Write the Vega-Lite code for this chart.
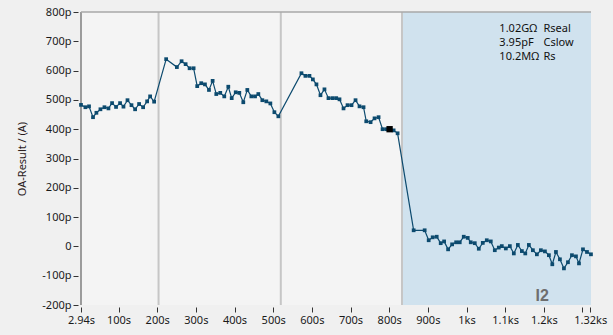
{
  "$schema": "https://vega.github.io/schema/vega-lite/v6.json",
  "width": 510,
  "height": 293,
  "autosize": "none",
  "padding": {"left": 81, "top": 12, "right": 22, "bottom": 30},
  "background": "#f0f0f0",
  "data": {"values": [{"one": 1}]},
  "config": {
    "view": {"fill": "#f4f4f4", "stroke": null},
    "font": "Noto Sans",
    "axis": {"labelFont": "Noto Sans", "titleFont": "Noto Sans", "labelFontSize": 11, "titleFontSize": 11, "labelColor": "#1a1a1a", "titleColor": "#2a1a1a", "titleFontWeight": "normal", "tickColor": "#333333", "grid": false, "labelOverlap": false, "labelFlush": false, "labelBound": false}
  },
  "datasets": {
    "trace": [
      {"t": 2.94, "v": 483}, {"t": 14.3, "v": 475}, {"t": 23.7, "v": 478}, {"t": 34.0, "v": 441}, {"t": 42.8, "v": 456},
      {"t": 53.2, "v": 468}, {"t": 63.6, "v": 475}, {"t": 73.9, "v": 471}, {"t": 83.3, "v": 489}, {"t": 93.6, "v": 476},
      {"t": 104.0, "v": 489}, {"t": 112.8, "v": 477}, {"t": 123.2, "v": 499}, {"t": 133.5, "v": 482}, {"t": 142.9, "v": 468},
      {"t": 153.2, "v": 486}, {"t": 163.6, "v": 475}, {"t": 174.0, "v": 495}, {"t": 181.7, "v": 512}, {"t": 192.1, "v": 494},
      {"t": 223.2, "v": 639}, {"t": 250.9, "v": 612}, {"t": 263.1, "v": 632}, {"t": 273.5, "v": 622}, {"t": 283.8, "v": 608},
      {"t": 294.2, "v": 608}, {"t": 303.5, "v": 547}, {"t": 313.9, "v": 557}, {"t": 323.5, "v": 553}, {"t": 333.9, "v": 534},
      {"t": 343.4, "v": 565}, {"t": 352.8, "v": 520}, {"t": 363.1, "v": 524}, {"t": 373.5, "v": 512}, {"t": 383.9, "v": 545},
      {"t": 392.7, "v": 506}, {"t": 403.1, "v": 526}, {"t": 412.4, "v": 524}, {"t": 422.7, "v": 492}, {"t": 433.1, "v": 534},
      {"t": 443.5, "v": 512}, {"t": 453.1, "v": 512}, {"t": 461.6, "v": 520}, {"t": 472.0, "v": 499}, {"t": 482.3, "v": 495},
      {"t": 492.7, "v": 488}, {"t": 503.1, "v": 458}, {"t": 513.4, "v": 444},
      {"t": 573.1, "v": 591}, {"t": 583.4, "v": 582}, {"t": 593.8, "v": 582}, {"t": 602.6, "v": 570}, {"t": 611.9, "v": 553},
      {"t": 622.3, "v": 516}, {"t": 632.6, "v": 536}, {"t": 643.0, "v": 506}, {"t": 653.4, "v": 506}, {"t": 663.0, "v": 506},
      {"t": 671.5, "v": 502}, {"t": 681.9, "v": 471}, {"t": 692.3, "v": 482}, {"t": 702.6, "v": 482}, {"t": 713.0, "v": 499},
      {"t": 723.3, "v": 478}, {"t": 733.7, "v": 475}, {"t": 740.7, "v": 427}, {"t": 751.9, "v": 424}, {"t": 762.2, "v": 437},
      {"t": 772.6, "v": 441}, {"t": 782.9, "v": 400}, {"t": 792.5, "v": 400}, {"t": 801.1, "v": 400}, {"t": 811.5, "v": 396},
      {"t": 821.8, "v": 386},
      {"t": 863.3, "v": 55}, {"t": 891.8, "v": 55}, {"t": 902.2, "v": 21}, {"t": 912.5, "v": 31}, {"t": 922.9, "v": 33},
      {"t": 933.3, "v": 11}, {"t": 942.1, "v": 17}, {"t": 952.4, "v": -10}, {"t": 962.8, "v": 7}, {"t": 973.2, "v": 14},
      {"t": 982.5, "v": 14}, {"t": 992.9, "v": 33}, {"t": 1003.2, "v": 29}, {"t": 1011.0, "v": 14}, {"t": 1021.4, "v": 11},
      {"t": 1031.8, "v": -8}, {"t": 1042.1, "v": 12}, {"t": 1052.5, "v": 21}, {"t": 1062.8, "v": 17}, {"t": 1073.2, "v": -13},
      {"t": 1083.5, "v": -4}, {"t": 1091.3, "v": 1}, {"t": 1101.7, "v": -7}, {"t": 1112.1, "v": 1}, {"t": 1122.4, "v": -24},
      {"t": 1132.8, "v": 5}, {"t": 1143.2, "v": -16}, {"t": 1152.0, "v": -24}, {"t": 1161.3, "v": 5}, {"t": 1171.7, "v": -13},
      {"t": 1182.0, "v": -27}, {"t": 1192.4, "v": -13}, {"t": 1202.8, "v": -17}, {"t": 1213.1, "v": -30}, {"t": 1221.9, "v": -61},
      {"t": 1231.3, "v": -19}, {"t": 1241.6, "v": -44}, {"t": 1252.0, "v": -75}, {"t": 1262.4, "v": -54}, {"t": 1272.7, "v": -30},
      {"t": 1283.1, "v": -34}, {"t": 1290.9, "v": -58}, {"t": 1301.2, "v": -10}, {"t": 1311.6, "v": -19}, {"t": 1321.9, "v": -27}
    ],
    "markers": [{"t": 203.5}, {"t": 519.7}, {"t": 833.2}]
  },
  "layer": [
    {
      "mark": {"type": "rect", "color": "#d0e2ee"},
      "encoding": {
        "x": {"datum": 834, "type": "quantitative", "scale": {"domain": [2.94, 1322], "nice": false, "zero": false}, "axis": {"title": null, "domain": false, "offset": 2, "tickSize": 5, "labelPadding": 2, "values": [2.94, 100, 200, 300, 400, 500, 600, 700, 800, 900, 1000, 1100, 1200, 1300, 1320], "labelExpr": "datum.value == 1300 ? '' : (datum.value >= 1000 ? (datum.value / 1000) + 'ks' : datum.value + 's')", "labelFlush": false, "labelOverlap": false, "labelBound": false}},
        "x2": {"datum": 1322},
        "y": {"datum": -200, "type": "quantitative", "scale": {"domain": [-200, 800], "nice": false, "zero": false}, "axis": {"title": "OA-Result / (A)", "domain": false, "offset": 3, "tickSize": 5, "labelPadding": 2, "titlePadding": 14, "values": [-200, -100, 0, 100, 200, 300, 400, 500, 600, 700, 800], "labelOverlap": false, "labelFlush": false, "labelBound": false, "labelExpr": "datum.value == 0 ? '0' : datum.value + 'p'"}},
        "y2": {"datum": 800}
      }
    },
    {
      "data": {"name": "markers"},
      "mark": {"type": "rule", "color": "#c6c6c6", "strokeWidth": 2},
      "encoding": {
        "x": {"field": "t", "type": "quantitative", "axis": {"title": null, "domain": false, "offset": 2, "tickSize": 5, "labelPadding": 2, "values": [2.94, 100, 200, 300, 400, 500, 600, 700, 800, 900, 1000, 1100, 1200, 1300, 1320], "labelExpr": "datum.value == 1300 ? '' : (datum.value >= 1000 ? (datum.value / 1000) + 'ks' : datum.value + 's')", "labelFlush": false, "labelOverlap": false, "labelBound": false}}
      }
    },
    {
      "mark": {"type": "rule", "color": "#7f7f7f", "strokeWidth": 1.5},
      "encoding": {
        "x": {"datum": 2.94, "type": "quantitative", "axis": {"title": null, "domain": false, "offset": 2, "tickSize": 5, "labelPadding": 2, "values": [2.94, 100, 200, 300, 400, 500, 600, 700, 800, 900, 1000, 1100, 1200, 1300, 1320], "labelExpr": "datum.value == 1300 ? '' : (datum.value >= 1000 ? (datum.value / 1000) + 'ks' : datum.value + 's')", "labelFlush": false, "labelOverlap": false, "labelBound": false}}
      }
    },
    {
      "mark": {"type": "rule", "color": "#a8a8a8", "strokeWidth": 1.5},
      "encoding": {
        "y": {"datum": 800, "type": "quantitative", "axis": {"title": "OA-Result / (A)", "domain": false, "offset": 3, "tickSize": 5, "labelPadding": 2, "titlePadding": 14, "values": [-200, -100, 0, 100, 200, 300, 400, 500, 600, 700, 800], "labelOverlap": false, "labelFlush": false, "labelBound": false, "labelExpr": "datum.value == 0 ? '0' : datum.value + 'p'"}}
      }
    },
    {
      "data": {"name": "trace"},
      "mark": {"type": "line", "color": "#0c4a6e", "strokeWidth": 1.2},
      "encoding": {
        "x": {"field": "t", "type": "quantitative", "axis": {"title": null, "domain": false, "offset": 2, "tickSize": 5, "labelPadding": 2, "values": [2.94, 100, 200, 300, 400, 500, 600, 700, 800, 900, 1000, 1100, 1200, 1300, 1320], "labelExpr": "datum.value == 1300 ? '' : (datum.value >= 1000 ? (datum.value / 1000) + 'ks' : datum.value + 's')", "labelFlush": false, "labelOverlap": false, "labelBound": false}},
        "y": {"field": "v", "type": "quantitative", "axis": {"title": "OA-Result / (A)", "domain": false, "offset": 3, "tickSize": 5, "labelPadding": 2, "titlePadding": 14, "values": [-200, -100, 0, 100, 200, 300, 400, 500, 600, 700, 800], "labelOverlap": false, "labelFlush": false, "labelBound": false, "labelExpr": "datum.value == 0 ? '0' : datum.value + 'p'"}}
      }
    },
    {
      "data": {"name": "trace"},
      "mark": {"type": "point", "shape": "square", "filled": true, "size": 14, "color": "#0c4a6e", "opacity": 1},
      "encoding": {
        "x": {"field": "t", "type": "quantitative", "axis": {"title": null, "domain": false, "offset": 2, "tickSize": 5, "labelPadding": 2, "values": [2.94, 100, 200, 300, 400, 500, 600, 700, 800, 900, 1000, 1100, 1200, 1300, 1320], "labelExpr": "datum.value == 1300 ? '' : (datum.value >= 1000 ? (datum.value / 1000) + 'ks' : datum.value + 's')", "labelFlush": false, "labelOverlap": false, "labelBound": false}},
        "y": {"field": "v", "type": "quantitative", "axis": {"title": "OA-Result / (A)", "domain": false, "offset": 3, "tickSize": 5, "labelPadding": 2, "titlePadding": 14, "values": [-200, -100, 0, 100, 200, 300, 400, 500, 600, 700, 800], "labelOverlap": false, "labelFlush": false, "labelBound": false, "labelExpr": "datum.value == 0 ? '0' : datum.value + 'p'"}}
      }
    },
    {
      "data": {"name": "trace"},
      "transform": [{"filter": "datum.t == 801.1"}],
      "mark": {"type": "point", "shape": "square", "filled": true, "size": 40, "color": "#000000", "opacity": 1},
      "encoding": {
        "x": {"field": "t", "type": "quantitative", "axis": {"title": null, "domain": false, "offset": 2, "tickSize": 5, "labelPadding": 2, "values": [2.94, 100, 200, 300, 400, 500, 600, 700, 800, 900, 1000, 1100, 1200, 1300, 1320], "labelExpr": "datum.value == 1300 ? '' : (datum.value >= 1000 ? (datum.value / 1000) + 'ks' : datum.value + 's')", "labelFlush": false, "labelOverlap": false, "labelBound": false}},
        "y": {"field": "v", "type": "quantitative", "axis": {"title": "OA-Result / (A)", "domain": false, "offset": 3, "tickSize": 5, "labelPadding": 2, "titlePadding": 14, "values": [-200, -100, 0, 100, 200, 300, 400, 500, 600, 700, 800], "labelOverlap": false, "labelFlush": false, "labelBound": false, "labelExpr": "datum.value == 0 ? '0' : datum.value + 'p'"}}
      }
    },
    {
      "mark": {"type": "text", "align": "left", "baseline": "alphabetic", "fontSize": 11, "color": "#111111", "lineBreak": "\n", "lineHeight": 14},
      "encoding": {
        "x": {"datum": 1085, "type": "quantitative", "axis": {"title": null, "domain": false, "offset": 2, "tickSize": 5, "labelPadding": 2, "values": [2.94, 100, 200, 300, 400, 500, 600, 700, 800, 900, 1000, 1100, 1200, 1300, 1320], "labelExpr": "datum.value == 1300 ? '' : (datum.value >= 1000 ? (datum.value / 1000) + 'ks' : datum.value + 's')", "labelFlush": false, "labelOverlap": false, "labelBound": false}},
        "y": {"datum": 732, "type": "quantitative", "axis": {"title": "OA-Result / (A)", "domain": false, "offset": 3, "tickSize": 5, "labelPadding": 2, "titlePadding": 14, "values": [-200, -100, 0, 100, 200, 300, 400, 500, 600, 700, 800], "labelOverlap": false, "labelFlush": false, "labelBound": false, "labelExpr": "datum.value == 0 ? '0' : datum.value + 'p'"}},
        "text": {"value": "1.02GΩ\n3.95pF\n10.2MΩ"}
      }
    },
    {
      "mark": {"type": "text", "align": "left", "baseline": "alphabetic", "fontSize": 11, "color": "#111111", "lineBreak": "\n", "lineHeight": 14},
      "encoding": {
        "x": {"datum": 1199, "type": "quantitative", "axis": {"title": null, "domain": false, "offset": 2, "tickSize": 5, "labelPadding": 2, "values": [2.94, 100, 200, 300, 400, 500, 600, 700, 800, 900, 1000, 1100, 1200, 1300, 1320], "labelExpr": "datum.value == 1300 ? '' : (datum.value >= 1000 ? (datum.value / 1000) + 'ks' : datum.value + 's')", "labelFlush": false, "labelOverlap": false, "labelBound": false}},
        "y": {"datum": 732, "type": "quantitative", "axis": {"title": "OA-Result / (A)", "domain": false, "offset": 3, "tickSize": 5, "labelPadding": 2, "titlePadding": 14, "values": [-200, -100, 0, 100, 200, 300, 400, 500, 600, 700, 800], "labelOverlap": false, "labelFlush": false, "labelBound": false, "labelExpr": "datum.value == 0 ? '0' : datum.value + 'p'"}},
        "text": {"value": "Rseal\nCslow\nRs"}
      }
    },
    {
      "mark": {"type": "text", "align": "center", "baseline": "alphabetic", "fontSize": 16, "fontWeight": "bold", "font": "Liberation Sans", "color": "#6e6e6e"},
      "encoding": {
        "x": {"datum": 1196, "type": "quantitative", "axis": {"title": null, "domain": false, "offset": 2, "tickSize": 5, "labelPadding": 2, "values": [2.94, 100, 200, 300, 400, 500, 600, 700, 800, 900, 1000, 1100, 1200, 1300, 1320], "labelExpr": "datum.value == 1300 ? '' : (datum.value >= 1000 ? (datum.value / 1000) + 'ks' : datum.value + 's')", "labelFlush": false, "labelOverlap": false, "labelBound": false}},
        "y": {"datum": -185, "type": "quantitative", "axis": {"title": "OA-Result / (A)", "domain": false, "offset": 3, "tickSize": 5, "labelPadding": 2, "titlePadding": 14, "values": [-200, -100, 0, 100, 200, 300, 400, 500, 600, 700, 800], "labelOverlap": false, "labelFlush": false, "labelBound": false, "labelExpr": "datum.value == 0 ? '0' : datum.value + 'p'"}},
        "text": {"value": "I2"}
      }
    }
  ]
}
